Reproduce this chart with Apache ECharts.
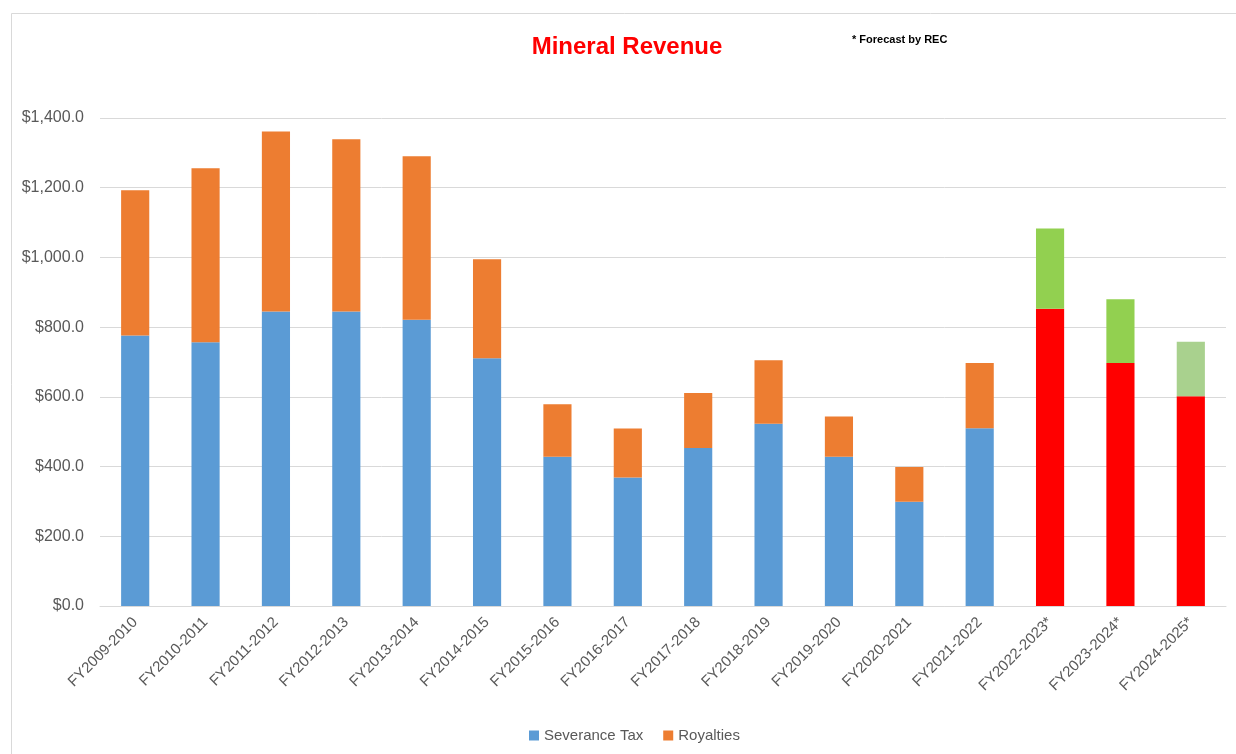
<!DOCTYPE html>
<html>
<head>
<meta charset="utf-8">
<script src="https://cdn.jsdelivr.net/npm/echarts@6/dist/echarts.min.js"></script>
<style>html,body{margin:0;padding:0;background:#fff}#c{width:1236px;height:754px}</style>
</head>
<body>
<div id="c"></div>
<script>
const categories = ['FY2009-2010','FY2010-2011','FY2011-2012','FY2012-2013','FY2013-2014','FY2014-2015','FY2015-2016','FY2016-2017','FY2017-2018','FY2018-2019','FY2019-2020','FY2020-2021','FY2021-2022','FY2022-2023*','FY2023-2024*','FY2024-2025*'];
const severanceTax = [776, 757, 845, 845, 821, 711, 428, 369, 453, 523, 428, 299, 510, 853, 697, 602];
const royalties = [417, 499, 516, 494, 469, 284, 151, 140, 158, 182, 116, 100, 187, 230, 183, 156];
const forecastFlags = [0,0,0,0,0,0,0,0,0,0,0,0,0,1,1,1];
const yTicks = [0, 200, 400, 600, 800, 1000, 1200, 1400];

const sevColors = { actual: '#5B9BD5', forecast: '#FF0000' };
const royColors = { actual: '#ED7D31', forecast: ['#92D050', '#92D050', '#A9D18E'] };

let fIdx = 0;
const royData = royalties.map((v, i) => {
  if (forecastFlags[i]) { const c = royColors.forecast[fIdx++]; return { value: v, itemStyle: { color: c } }; }
  return v;
});
const sevData = severanceTax.map((v, i) => forecastFlags[i] ? { value: v, itemStyle: { color: sevColors.forecast } } : v);

const chart = echarts.init(document.getElementById('c'), null, { renderer: 'canvas' });
const font = 'Liberation Sans, Arial, sans-serif';
chart.setOption({
  animation: false,
  backgroundColor: '#fff',
  graphic: [{
    type: 'rect', left: 9, top: 11, shape: { width: 1240, height: 760 },
    style: { fill: 'none', stroke: '#d9d9d9', lineWidth: 1 }, z: -1
  }, {
    type: 'text', left: 852, top: 34,
    style: { text: '* Forecast by REC', font: 'bold 11px ' + font, fill: '#000' }
  }],
  title: {
    text: 'Mineral Revenue', left: 622, textAlign: 'center', top: 30,
    textStyle: { color: '#FF0000', fontSize: 24, fontWeight: 'bold', fontFamily: font }
  },
  legend: {
    data: ['Severance Tax', 'Royalties'], bottom: 6, left: 524,
    itemWidth: 10, itemHeight: 10, itemGap: 20, icon: 'rect',
    textStyle: { color: '#595959', fontSize: 15, fontFamily: font }
  },
  grid: { left: 100, right: 10, top: 118, bottom: 148 },
  xAxis: {
    type: 'category', data: categories,
    axisLine: { lineStyle: { color: '#d9d9d9', width: 1 } },
    axisTick: { show: false },
    axisLabel: { rotate: 45, interval: 0, margin: 14, color: '#595959', fontSize: 15, fontFamily: font }
  },
  yAxis: {
    type: 'value', min: yTicks[0], max: yTicks[yTicks.length - 1], interval: 200,
    axisLine: { show: false }, axisTick: { show: false },
    splitLine: { lineStyle: { color: '#d9d9d9', width: 1 } },
    axisLabel: {
      color: '#595959', fontSize: 16, fontFamily: font, margin: 16,
      formatter: v => '$' + v.toLocaleString('en-US', { minimumFractionDigits: 1, maximumFractionDigits: 1 })
    }
  },
  series: [
    { name: 'Severance Tax', type: 'bar', stack: 't', data: sevData, barCategoryGap: '60%', itemStyle: { color: sevColors.actual } },
    { name: 'Royalties', type: 'bar', stack: 't', data: royData, barCategoryGap: '60%', itemStyle: { color: royColors.actual } }
  ]
});
</script>
</body>
</html>
